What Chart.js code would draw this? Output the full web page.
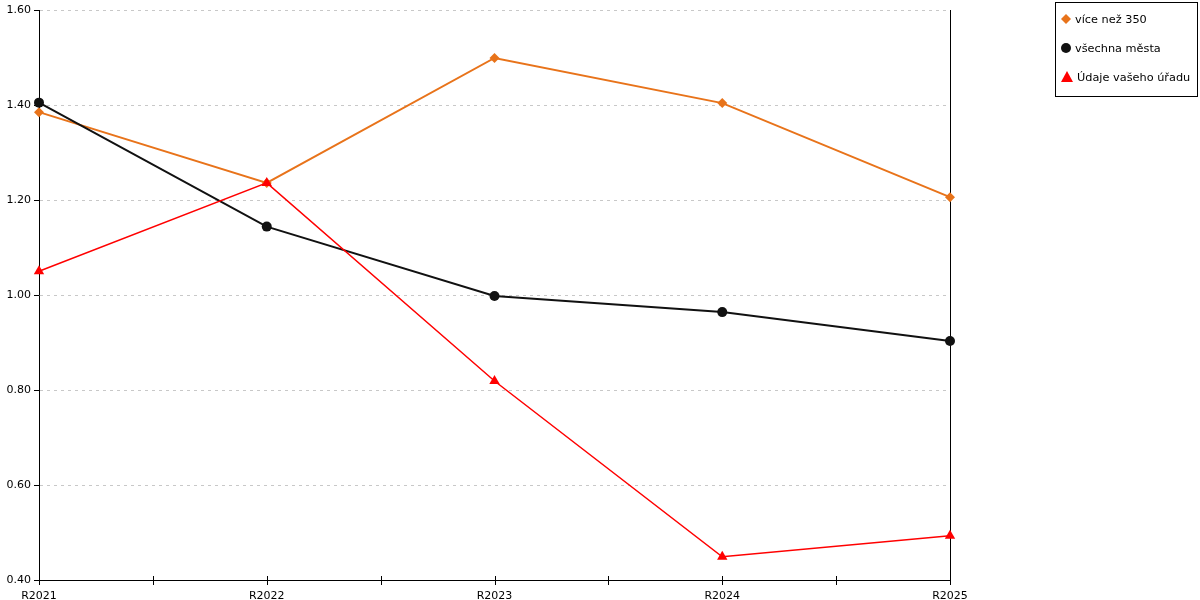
<!DOCTYPE html>
<html>
<head>
<meta charset="utf-8">
<script src="https://cdn.jsdelivr.net/npm/chart.js@4/dist/chart.umd.min.js"></script>
<style>
  html, body { margin: 0; padding: 0; background: #fff; }
  #wrap { position: relative; width: 1200px; height: 600px; }
  #legend {
    position: absolute; left: 1055px; top: 2px; width: 141px; height: 93px;
    border: 1px solid #000; font: 11.3px "DejaVu Sans", sans-serif; color: #000;
  }
  #legend div { position: absolute; left: 5px; height: 14px; line-height: 14px; white-space: nowrap; }
  #legend svg { vertical-align: -2px; margin-right: 4px; }
</style>
</head>
<body>
<div id="wrap">
  <canvas id="chart" width="1200" height="600"></canvas>
  <div id="legend"></div>
</div>
<script>
const categories = ["R2021", "R2022", "R2023", "R2024", "R2025"];
const seriesNames = ["více než 350", "všechna města", "Údaje vašeho úřadu"];
const over350 = [1.385, 1.236, 1.499, 1.404, 1.206];
const allCities = [1.405, 1.144, 0.998, 0.964, 0.903];
const yourOffice = [1.050, 1.236, 0.819, 0.449, 0.493];
const yTicks = [0.40, 0.60, 0.80, 1.00, 1.20, 1.40, 1.60];

const colors = ["#E8731A", "#111111", "#FF0000"];
const shapes = ["rectRot", "circle", "triangle"];

const toPoints = arr => arr.map((v, i) => ({ x: i, y: v }));

// frame: right border line and x ticks crossing the axis
const framePlugin = {
  id: "frame",
  beforeDatasetsDraw(chart) {
    const ctx = chart.ctx;
    const a = chart.chartArea;
    const xs = chart.scales.x;
    ctx.save();
    ctx.strokeStyle = "#000";
    ctx.lineWidth = 1;
    ctx.beginPath();
    ctx.moveTo(Math.round(a.right) + 0.5, a.top);
    ctx.lineTo(Math.round(a.right) + 0.5, a.bottom);
    xs.ticks.forEach(t => {
      const px = Math.round(xs.getPixelForValue(t.value)) + 0.5;
      const top = t.value === 0 ? a.bottom : a.bottom - 4;
      ctx.moveTo(px, top);
      ctx.lineTo(px, a.bottom + 5);
    });
    ctx.stroke();
    ctx.restore();
  }
};

new Chart(document.getElementById("chart"), {
  type: "line",
  data: {
    datasets: [over350, allCities, yourOffice].map((arr, i) => ({
      label: seriesNames[i],
      data: toPoints(arr),
      borderColor: colors[i],
      backgroundColor: colors[i],
      borderWidth: i === 2 ? 1.5 : 2,
      pointStyle: shapes[i],
      pointRadius: i === 2 ? 6 : 5,
      pointBorderWidth: 0,
      order: 3 - i,
      clip: false,
      tension: 0
    }))
  },
  options: {
    responsive: false,
    animation: false,
    layout: { padding: { top: 10, right: 250, left: 0, bottom: 0 } },
    plugins: { legend: { display: false }, tooltip: { enabled: false } },
    scales: {
      x: {
        type: "linear",
        min: 0,
        max: categories.length - 1,
        afterBuildTicks: s => {
          s.ticks = [];
          for (let v = 0; v <= categories.length - 1; v += 0.5) s.ticks.push({ value: v });
        },
        ticks: {
          autoSkip: false,
          maxRotation: 0,
          padding: 2,
          color: "#000",
          font: { family: "DejaVu Sans", size: 11 },
          callback: v => Number.isInteger(v) ? categories[v] : ""
        },
        grid: { display: false },
        border: { display: true, color: "#000", width: 1 },
        afterFit: s => { s.height = 20; }
      },
      y: {
        min: 0.4,
        max: 1.6,
        afterBuildTicks: s => { s.ticks = yTicks.map(v => ({ value: v })); },
        ticks: {
          color: "#000",
          padding: 3,
          font: { family: "DejaVu Sans", size: 11 },
          callback: v => v.toFixed(2)
        },
        grid: { color: "#c8c8c8", tickColor: "#000", tickLength: 5, tickBorderDash: [] },
        border: { display: true, color: "#000", width: 1, dash: [3, 4] },
        afterFit: s => { s.width = 39; }
      }
    }
  },
  plugins: [framePlugin]
});

// html legend
const svgFor = (i) => {
  const c = colors[i];
  if (i === 0) return `<svg width="10" height="12"><polygon points="5,1 10,6 5,11 0,6" fill="${c}"/></svg>`;
  if (i === 1) return `<svg width="10" height="12"><circle cx="5" cy="6" r="5" fill="${c}"/></svg>`;
  return `<svg width="12" height="12"><polygon points="6,0 12,11 0,11" fill="${c}"/></svg>`;
};
const legend = document.getElementById("legend");
seriesNames.forEach((name, i) => {
  const d = document.createElement("div");
  d.style.top = (10 + i * 29) + "px";
  d.innerHTML = svgFor(i) + name;
  legend.appendChild(d);
});
</script>
</body>
</html>
